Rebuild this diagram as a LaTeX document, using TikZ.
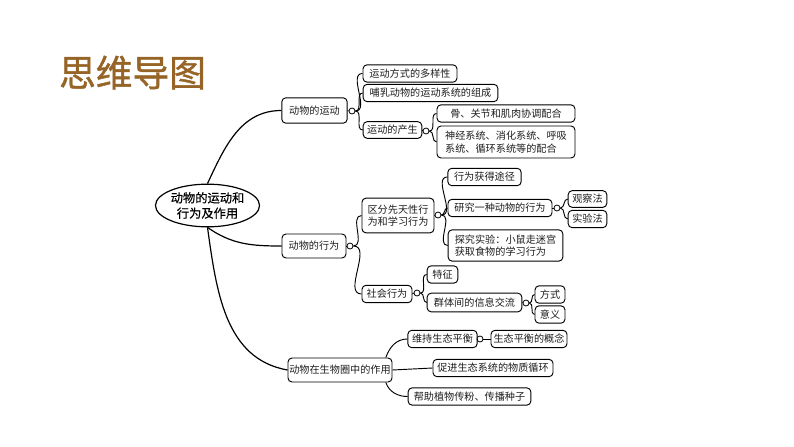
\documentclass[tikz,border=0pt]{standalone}
\usepackage{fontspec}
\setmainfont{Noto Sans CJK SC}
\newfontfamily\headfont[FakeBold=1.2]{Noto Sans CJK SC}
\newfontfamily\hubfont[FakeBold=0.4]{Noto Sans CJK SC}
\usepackage{tikz}
\usetikzlibrary{shapes.geometric}
\definecolor{TitleBrown}{RGB}{150,100,38}
\definecolor{MapInk}{RGB}{30,30,30}

\begin{document}
\begin{tikzpicture}[x=0.75pt,y=-0.75pt,
        hub/.style={draw, ellipse, line width=0.9pt, fill=white, minimum width=67pt, minimum height=32pt,
                    inner sep=0pt, align=center, font=\hubfont\fontsize{9.2}{11.5}\selectfont, text=black},
    topic/.style={draw, rounded corners=3pt, fill=white, line width=0.7pt, minimum height=18pt, inner sep=1pt,
                  align=center, font=\fontsize{7.6}{9.5}\selectfont, text=MapInk},
        leaf/.style={draw, rounded corners=3pt, fill=white, line width=0.7pt, minimum height=13pt, inner sep=1pt,
                  align=center, font=\fontsize{7.6}{9.5}\selectfont, text=MapInk},
    knot/.style={draw, circle, fill=white, line width=0.6pt, minimum size=4.5pt, inner sep=0pt},
        link/.style={line width=0.7pt},
        trunk/.style={line width=0.9pt}
]
    \useasboundingbox (0,0) rectangle (794,447);
    \node[text=TitleBrown, font=\headfont\fontsize{27.5}{30}\selectfont] (title) at (132.5,72.5) {思维导图};

    % centre and main branches
    \node[hub] (core) at (207.5,205.5) {动物的运动和\\行为及作用};
    \node[topic, minimum width=49pt, minimum height=19pt] (mot) at (314.5,110.5) {动物的运动};
    \node[topic, minimum width=48pt] (beh) at (314,246) {动物的行为};
    \node[topic, minimum width=78pt] (eco) at (340,370) {动物在生物圈中的作用};
    \draw[trunk] (core.north) to[out=65,in=180] (mot.west);
    \draw[trunk] (core.south) to[out=-35,in=180] (beh.west);
    \draw[trunk] (core.south) to[out=-82,in=170] (eco.west);

    % movement
    \node[knot] (k1) at (352,111) {};
    \node[leaf, minimum width=70.5pt] (m1) at (410,73.5) {运动方式的多样性};
    \node[leaf, minimum width=101pt] (m2) at (430.5,93) {哺乳动物的运动系统的组成};
    \node[leaf, minimum width=44pt, minimum height=12.5pt] (m3) at (392.5,130) {运动的产生};
    \node[knot] (k2) at (426,131) {};
    \node[leaf, minimum width=103.5pt] (m31) at (506,113.5) {骨、关节和肌肉协调配合};
    \node[leaf, minimum width=103.5pt, minimum height=24pt, align=left] (m32) at (506,142) {神经系统、消化系统、呼吸\\系统、循环系统等的配合};
    \draw[link] (mot.east) -- (k1.west);
    \draw[link] (k1.east) to[out=0,in=180] (m1.west);
    \draw[link] (k1.east) to[out=0,in=180] (m2.west);
    \draw[link] (k1.east) to[out=0,in=180] (m3.west);
    \draw[link] (m3.east) -- (k2.west);
    \draw[link] (k2.east) to[out=0,in=180] (m31.west);
    \draw[link] (k2.east) to[out=0,in=180] (m32.west);

    % behaviour
    \node[knot] (k3) at (350,246) {};
    \node[leaf, minimum width=54pt, minimum height=26pt] (b1) at (398,215.5) {区分先天性行\\为和学习行为};
    \node[knot] (k4) at (438,215) {};
    \node[leaf, minimum width=55pt] (b11) at (484.5,177) {行为获得途径};
    \node[leaf, minimum width=78pt] (b12) at (500,208) {研究一种动物的行为};
    \node[knot] (k5) at (557,208) {};
    \node[leaf, minimum width=29pt, minimum height=12.5pt] (b121) at (587.5,199) {观察法};
    \node[leaf, minimum width=29pt] (b122) at (587.5,219) {实验法};
    \node[leaf, minimum width=86pt, minimum height=23.5pt, align=left] (b13) at (505.5,245.5) {探究实验：小鼠走迷宫\\获取食物的学习行为};
    \node[leaf, minimum width=37.5pt] (b2) at (387,294) {社会行为};
    \node[knot] (k6) at (417,293) {};
    \node[leaf, minimum width=23pt] (b21) at (442.5,274.5) {特征};
    \node[leaf, minimum width=71pt, minimum height=14pt] (b22) at (474.5,302.5) {群体间的信息交流};
    \node[knot] (k7) at (526,303) {};
    \node[leaf, minimum width=22.5pt] (b221) at (550,294.5) {方式};
    \node[leaf, minimum width=22.5pt] (b222) at (550,314.5) {意义};
    \draw[link] (beh.east) -- (k3.west);
    \draw[link] (k3.east) to[out=0,in=180] (b1.west);
    \draw[link] (k3.east) to[out=0,in=180] (b2.west);
    \draw[link] (b1.east) -- (k4.west);
    \draw[link] (k4.east) to[out=0,in=180] (b11.west);
    \draw[link] (k4.east) to[out=0,in=180] (b12.west);
    \draw[link] (k4.east) to[out=0,in=180] (b13.west);
    \draw[link] (b12.east) -- (k5.west);
    \draw[link] (k5.east) to[out=0,in=180] (b121.west);
    \draw[link] (k5.east) to[out=0,in=180] (b122.west);
    \draw[link] (b2.east) -- (k6.west);
    \draw[link] (k6.east) to[out=0,in=180] (b21.west);
    \draw[link] (k6.east) to[out=0,in=180] (b22.west);
    \draw[link] (b22.east) -- (k7.west);
    \draw[link] (k7.east) to[out=0,in=180] (b221.west);
    \draw[link] (k7.east) to[out=0,in=180] (b222.west);

    % role in the biosphere
    \node[leaf, minimum width=52pt] (e1) at (442.5,339) {维持生态平衡};
    \node[knot] (k8) at (480,339) {};
    \node[leaf, minimum width=57pt] (e11) at (529,339) {生态平衡的概念};
    \node[leaf, minimum width=90pt] (e2) at (493,368) {促进生态系统的物质循环};
    \node[leaf, minimum width=92pt] (e3) at (469.5,396.5) {帮助植物传粉、传播种子};
    \draw[link] ([xshift=-5pt]eco.north east) to[out=70,in=180] (e1.west);
    \draw[link] (eco.east) -- (e2.west);
    \draw[link] ([xshift=-5pt]eco.south east) to[out=-70,in=180] (e3.west);
    \draw[link] (e1.east) -- (k8.west);
    \draw[link] (k8.east) -- (e11.west);
\end{tikzpicture}
\end{document}
